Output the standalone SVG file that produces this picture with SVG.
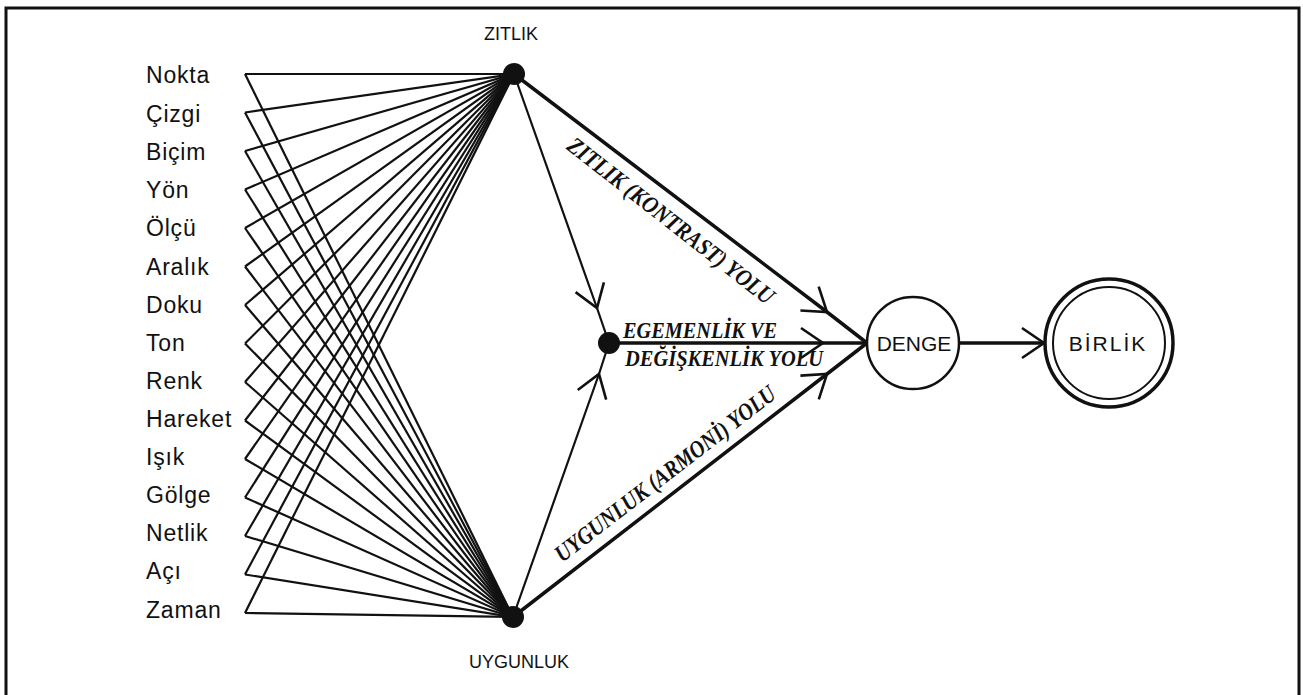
<svg xmlns="http://www.w3.org/2000/svg" width="1303" height="695" viewBox="0 0 1303 695">
<defs>
<style>
.lbl{font-family:"Liberation Sans",Arial,sans-serif;font-size:23px;letter-spacing:0.8px;fill:#111}
.hub{font-family:"Liberation Sans",Arial,sans-serif;font-size:18px;fill:#111}
.node{font-family:"Liberation Sans",Arial,sans-serif;font-size:21px;fill:#111}
.path{font-family:"Liberation Serif","Times New Roman",serif;font-size:24px;font-weight:bold;font-style:italic;fill:#111}
.fan{stroke:#111;stroke-width:2.2;fill:none}
.thin{stroke:#111;stroke-width:2.2;fill:none}
.thick{stroke:#111;stroke-width:3.5;fill:none}
</style>
<marker id="chev" markerUnits="userSpaceOnUse" orient="auto" refX="0" refY="0" markerWidth="40" markerHeight="40" viewBox="-30 -20 40 40" overflow="visible">
<path d="M-22,-15 L0,0 L-22,15" fill="none" stroke="#111" stroke-width="2.6"/>
</marker>
</defs>
<rect x="0" y="0" width="1303" height="695" fill="#fff"/>
<rect x="6" y="8" width="1293" height="700" fill="none" stroke="#111" stroke-width="3"/>

<g id="connectors">
<g id="fan-zitlik" class="fan">
<path d="M245,74 L514,74"/>
<path d="M245,112.5 L514,74"/>
<path d="M245,151 L514,74"/>
<path d="M245,189.5 L514,74"/>
<path d="M245,228 L514,74"/>
<path d="M245,266.5 L514,74"/>
<path d="M245,305 L514,74"/>
<path d="M245,343.5 L514,74"/>
<path d="M245,382 L514,74"/>
<path d="M245,420.5 L514,74"/>
<path d="M245,459 L514,74"/>
<path d="M245,497.5 L514,74"/>
<path d="M245,536 L514,74"/>
<path d="M245,574.5 L514,74"/>
<path d="M245,613 L514,74"/>
</g>
<g id="fan-uygunluk" class="fan">
<path d="M245,74 L513,617"/>
<path d="M245,112.5 L513,617"/>
<path d="M245,151 L513,617"/>
<path d="M245,189.5 L513,617"/>
<path d="M245,228 L513,617"/>
<path d="M245,266.5 L513,617"/>
<path d="M245,305 L513,617"/>
<path d="M245,343.5 L513,617"/>
<path d="M245,382 L513,617"/>
<path d="M245,420.5 L513,617"/>
<path d="M245,459 L513,617"/>
<path d="M245,497.5 L513,617"/>
<path d="M245,536 L513,617"/>
<path d="M245,574.5 L513,617"/>
<path d="M245,613 L513,617"/>
</g>
<path class="thin" d="M514,74 L597,308 L609,343" marker-mid="url(#chev)"/>
<path class="thin" d="M513,617 L599,374 L609,343" marker-mid="url(#chev)"/>
<path class="thick" d="M514,74 L827,312 L867,343" marker-mid="url(#chev)"/>
<path class="thick" d="M513,617 L827,374 L867,343" marker-mid="url(#chev)"/>
<path class="thick" d="M609,343 L823,343 L867,343" marker-mid="url(#chev)"/>
<path class="thick" d="M959,343 L1044,343" marker-end="url(#chev)"/>
</g>

<g id="labels">
<text class="lbl" x="146" y="83">Nokta</text>
<text class="lbl" x="146" y="122">Çizgi</text>
<text class="lbl" x="146" y="160">Biçim</text>
<text class="lbl" x="146" y="198">Yön</text>
<text class="lbl" x="146" y="236">Ölçü</text>
<text class="lbl" x="146" y="275">Aralık</text>
<text class="lbl" x="146" y="313">Doku</text>
<text class="lbl" x="146" y="351">Ton</text>
<text class="lbl" x="146" y="389">Renk</text>
<text class="lbl" x="146" y="427">Hareket</text>
<text class="lbl" x="146" y="465">Işık</text>
<text class="lbl" x="146" y="503">Gölge</text>
<text class="lbl" x="146" y="541">Netlik</text>
<text class="lbl" x="146" y="579">Açı</text>
<text class="lbl" x="146" y="618">Zaman</text>
</g>

<g id="zitlik">
<circle cx="514" cy="74" r="11" fill="#111"/>
<text class="hub" x="511" y="40" text-anchor="middle">ZITLIK</text>
</g>
<g id="uygunluk">
<circle cx="513" cy="617" r="11" fill="#111"/>
<text class="hub" x="519" y="668" text-anchor="middle">UYGUNLUK</text>
</g>
<g id="egemenlik">
<circle cx="609" cy="343" r="11" fill="#111"/>
<text class="path" x="623" y="338" textLength="154" lengthAdjust="spacingAndGlyphs">EGEMENLİK VE</text>
<text class="path" x="625" y="366" textLength="198" lengthAdjust="spacingAndGlyphs">DEĞİŞKENLİK YOLU</text>
</g>
<g id="zitlik-yolu">
<text class="path" transform="translate(666,227) rotate(38)" x="0" y="0" text-anchor="middle" textLength="255" lengthAdjust="spacingAndGlyphs">ZITLIK (KONTRAST) YOLU</text>
</g>
<g id="uygunluk-yolu">
<text class="path" transform="translate(670,480) rotate(-37.6)" x="0" y="0" text-anchor="middle" textLength="272" lengthAdjust="spacingAndGlyphs">UYGUNLUK (ARMONİ) YOLU</text>
</g>
<g id="denge">
<circle cx="913" cy="343" r="46" fill="#fff" stroke="#111" stroke-width="2.5"/>
<text class="node" x="914" y="351" text-anchor="middle">DENGE</text>
</g>
<g id="birlik">
<circle cx="1109" cy="343" r="64" fill="#fff" stroke="#111" stroke-width="3.5"/>
<circle cx="1109" cy="343" r="56" fill="none" stroke="#111" stroke-width="2"/>
<text class="node" x="1108" y="351" text-anchor="middle" letter-spacing="2">BİRLİK</text>
</g>
</svg>
